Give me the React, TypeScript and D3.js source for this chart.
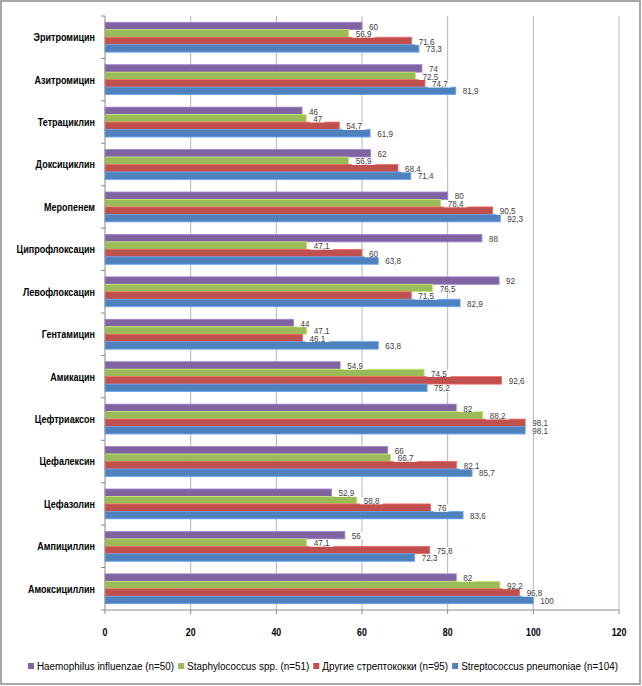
import React, { useEffect, useLayoutEffect, useRef, useState } from 'react';
import * as d3 from 'd3';

// categories, top to bottom
const categories = [
  'Эритромицин', 'Азитромицин', 'Тетрациклин', 'Доксициклин', 'Меропенем',
  'Ципрофлоксацин', 'Левофлоксацин', 'Гентамицин', 'Амикацин', 'Цефтриаксон',
  'Цефалексин', 'Цефазолин', 'Ампициллин', 'Амоксициллин',
];

const seriesNames = [
  'Haemophilus influenzae (n=50)',
  'Staphylococcus spp. (n=51)',
  'Другие стрептококки (n=95)',
  'Streptococcus pneumoniae (n=104)',
];

const seriesColors = ['#8064A2', '#9BBB59', '#C0504D', '#4F81BD'];

const haemophilus = [60, 74, 46, 62, 80, 88, 92, 44, 54.9, 82, 66, 52.9, 56, 82];
const staphylococcus = [56.9, 72.5, 47, 56.9, 78.4, 47.1, 76.5, 47.1, 74.5, 88.2, 66.7, 58.8, 47.1, 92.2];
const otherStrep = [71.6, 74.7, 54.7, 68.4, 90.5, 60, 71.5, 46.1, 92.6, 98.1, 82.1, 76, 75.8, 96.8];
const pneumoniae = [73.3, 81.9, 61.9, 71.4, 92.3, 63.8, 82.9, 63.8, 75.2, 98.1, 85.7, 83.6, 72.3, 100];

const xTicks = [0, 20, 40, 60, 80, 100, 120];

const W = 642;
const H = 686;
const margin = { top: 16, right: 23, bottom: 76, left: 105 };

const font = "'Liberation Sans', Arial, sans-serif";

const fmt = (v: number) => String(v).replace('.', ',');

// narrow text: Calibri-like width from a wider font
const NText = ({ x, y, sx, children, textRef, ...rest }: any) => (
  <text
    ref={textRef}
    transform={`translate(${x},${y}) scale(${sx},1)`}
    dy="0.35em"
    fontFamily={font}
    {...rest}
  >
    {children}
  </text>
);

const App = () => {
  const legendRefs = useRef<(SVGTextElement | null)[]>([]);
  const [legendW, setLegendW] = useState<number[]>(seriesNames.map(() => 130));

  useEffect(() => {
    document.body.style.margin = '0';
  }, []);

  const legendScale = 0.86;

  useLayoutEffect(() => {
    const w = legendRefs.current.map(t => (t ? t.getComputedTextLength() * legendScale : 130));
    setLegendW(w);
  }, []);

  const allSeries = [haemophilus, staphylococcus, otherStrep, pneumoniae];

  const x = d3.scaleLinear().domain([0, 120]).range([margin.left, W - margin.right]);
  const y = d3.scaleBand<string>().domain(categories).range([margin.top, H - margin.bottom]);
  const gap = y.bandwidth() * 0.148;
  const inner = d3.scaleBand<string>()
    .domain(seriesNames)
    .range([gap, y.bandwidth() - gap]);

  const yBottom = H - margin.bottom;

  // legend layout
  const sq = 6;
  const itemW = legendW.map(w => sq + 3 + w + 4);
  const totalW = d3.sum(itemW);
  let lx = W / 2 + 4 - totalW / 2;
  const legendX = itemW.map(w => {
    const cur = lx;
    lx += w;
    return cur;
  });

  return (
    <svg width={W} height={H} style={{ display: 'block', background: '#fff' }}>
      <rect x={1} y={1} width={W - 3} height={H - 3} fill="#fff" stroke="#8a8a8a" strokeWidth={1.5} />

      {/* gridlines */}
      {xTicks.filter(t => t > 0).map(t => (
        <line key={t} x1={x(t)} x2={x(t)} y1={margin.top} y2={yBottom} stroke="#b4b4b4" strokeWidth={1} />
      ))}

      {/* bars */}
      {categories.map((c, ci) => (
        <g key={c} transform={`translate(0,${y(c)})`}>
          {seriesNames.map((s, si) => {
            const v = allSeries[si][ci];
            const col = seriesColors[si];
            return (
              <rect
                key={s}
                x={x(0)}
                y={inner(s)}
                width={x(v) - x(0)}
                height={inner.bandwidth()}
                fill={col}
                stroke={d3.color(col)!.brighter(0.7).formatHex()}
                strokeWidth={0.8}
              />
            );
          })}
        </g>
      ))}

      {/* value labels */}
      {categories.map((c, ci) => (
        <g key={c} transform={`translate(0,${y(c)})`}>
          {seriesNames.map((s, si) => {
            const v = allSeries[si][ci];
            const label = fmt(v);
            const tw = label.length * 4.1;
            const cy = (inner(s) || 0) + inner.bandwidth() / 2 + 0.5;
            return (
              <g key={s}>
                <rect x={x(v) + 3} y={cy - 3.6} width={tw + 7} height={7.2} fill="#fff" />
                <NText x={x(v) + 7} y={cy} sx={0.9} fontSize={9} fill="#404040">
                  {label}
                </NText>
              </g>
            );
          })}
        </g>
      ))}

      {/* left axis */}
      <line x1={x(0)} x2={x(0)} y1={margin.top} y2={yBottom} stroke="#8a8a8a" strokeWidth={1} />
      {[...categories.map(c => y(c) || 0), yBottom].map((py, i) => (
        <line key={i} x1={x(0) - 4} x2={x(0)} y1={py} y2={py} stroke="#8a8a8a" strokeWidth={1} />
      ))}
      {categories.map(c => (
        <NText
          key={c}
          x={x(0) - 10}
          y={(y(c) || 0) + y.bandwidth() / 2}
          sx={0.82}
          textAnchor="end"
          fontSize={11}
          fontWeight="bold"
          fill="#000"
        >
          {c}
        </NText>
      ))}

      {/* bottom axis */}
      <line x1={x(0)} x2={x(120)} y1={yBottom} y2={yBottom} stroke="#8a8a8a" strokeWidth={1} />
      {xTicks.map(t => (
        <g key={t}>
          <line x1={x(t)} x2={x(t)} y1={yBottom} y2={yBottom + 4} stroke="#8a8a8a" strokeWidth={1} />
          <NText
            x={x(t)}
            y={yBottom + 22}
            sx={0.8}
            textAnchor="middle"
            fontSize={11}
            fontWeight="bold"
            fill="#000"
          >
            {t}
          </NText>
        </g>
      ))}

      {/* legend */}
      {seriesNames.map((s, i) => (
        <g key={s} transform={`translate(${legendX[i]},666)`}>
          <rect x={0} y={-sq / 2} width={sq} height={sq} fill={seriesColors[i]} />
          <NText
            textRef={(el: SVGTextElement | null) => { legendRefs.current[i] = el; }}
            x={sq + 3}
            y={0}
            sx={legendScale}
            fontSize={11.5}
            fill="#000"
          >
            {s}
          </NText>
        </g>
      ))}
    </svg>
  );
};

export default App;
